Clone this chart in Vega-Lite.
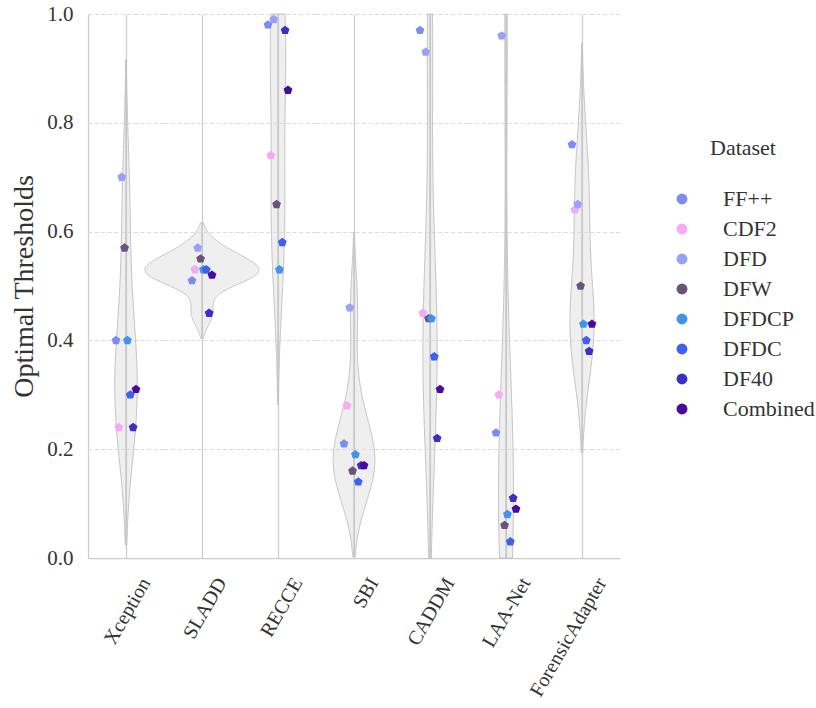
{
  "$schema": "https://vega.github.io/schema/vega-lite/v6.json",
  "padding": {"left": 10, "top": 3, "right": 4, "bottom": 4},
  "data": {"values": [
    {"method": "Xception", "dataset": "FF++", "threshold": 0.40},
    {"method": "SLADD", "dataset": "FF++", "threshold": 0.51},
    {"method": "RECCE", "dataset": "FF++", "threshold": 0.98},
    {"method": "SBI", "dataset": "FF++", "threshold": 0.21},
    {"method": "CADDM", "dataset": "FF++", "threshold": 0.97},
    {"method": "LAA-Net", "dataset": "FF++", "threshold": 0.23},
    {"method": "ForensicAdapter", "dataset": "FF++", "threshold": 0.76},
    {"method": "Xception", "dataset": "CDF2", "threshold": 0.24},
    {"method": "SLADD", "dataset": "CDF2", "threshold": 0.53},
    {"method": "RECCE", "dataset": "CDF2", "threshold": 0.74},
    {"method": "SBI", "dataset": "CDF2", "threshold": 0.28},
    {"method": "CADDM", "dataset": "CDF2", "threshold": 0.45},
    {"method": "LAA-Net", "dataset": "CDF2", "threshold": 0.30},
    {"method": "ForensicAdapter", "dataset": "CDF2", "threshold": 0.64},
    {"method": "Xception", "dataset": "DFD", "threshold": 0.70},
    {"method": "SLADD", "dataset": "DFD", "threshold": 0.57},
    {"method": "RECCE", "dataset": "DFD", "threshold": 0.99},
    {"method": "SBI", "dataset": "DFD", "threshold": 0.46},
    {"method": "CADDM", "dataset": "DFD", "threshold": 0.93},
    {"method": "LAA-Net", "dataset": "DFD", "threshold": 0.96},
    {"method": "ForensicAdapter", "dataset": "DFD", "threshold": 0.65},
    {"method": "Xception", "dataset": "DFW", "threshold": 0.57},
    {"method": "SLADD", "dataset": "DFW", "threshold": 0.55},
    {"method": "RECCE", "dataset": "DFW", "threshold": 0.65},
    {"method": "SBI", "dataset": "DFW", "threshold": 0.16},
    {"method": "CADDM", "dataset": "DFW", "threshold": 0.44},
    {"method": "LAA-Net", "dataset": "DFW", "threshold": 0.06},
    {"method": "ForensicAdapter", "dataset": "DFW", "threshold": 0.50},
    {"method": "Xception", "dataset": "DFDCP", "threshold": 0.40},
    {"method": "SLADD", "dataset": "DFDCP", "threshold": 0.53},
    {"method": "RECCE", "dataset": "DFDCP", "threshold": 0.53},
    {"method": "SBI", "dataset": "DFDCP", "threshold": 0.19},
    {"method": "CADDM", "dataset": "DFDCP", "threshold": 0.44},
    {"method": "LAA-Net", "dataset": "DFDCP", "threshold": 0.08},
    {"method": "ForensicAdapter", "dataset": "DFDCP", "threshold": 0.43},
    {"method": "Xception", "dataset": "DFDC", "threshold": 0.30},
    {"method": "SLADD", "dataset": "DFDC", "threshold": 0.53},
    {"method": "RECCE", "dataset": "DFDC", "threshold": 0.58},
    {"method": "SBI", "dataset": "DFDC", "threshold": 0.14},
    {"method": "CADDM", "dataset": "DFDC", "threshold": 0.37},
    {"method": "LAA-Net", "dataset": "DFDC", "threshold": 0.03},
    {"method": "ForensicAdapter", "dataset": "DFDC", "threshold": 0.40},
    {"method": "Xception", "dataset": "DF40", "threshold": 0.24},
    {"method": "SLADD", "dataset": "DF40", "threshold": 0.45},
    {"method": "RECCE", "dataset": "DF40", "threshold": 0.97},
    {"method": "SBI", "dataset": "DF40", "threshold": 0.17},
    {"method": "CADDM", "dataset": "DF40", "threshold": 0.22},
    {"method": "LAA-Net", "dataset": "DF40", "threshold": 0.11},
    {"method": "ForensicAdapter", "dataset": "DF40", "threshold": 0.38},
    {"method": "Xception", "dataset": "Combined", "threshold": 0.31},
    {"method": "SLADD", "dataset": "Combined", "threshold": 0.52},
    {"method": "RECCE", "dataset": "Combined", "threshold": 0.86},
    {"method": "SBI", "dataset": "Combined", "threshold": 0.17},
    {"method": "CADDM", "dataset": "Combined", "threshold": 0.31},
    {"method": "LAA-Net", "dataset": "Combined", "threshold": 0.09},
    {"method": "ForensicAdapter", "dataset": "Combined", "threshold": 0.43}
  ]},
  "spacing": 0,
  "bounds": "flush",
  "facet": {
    "column": {
      "field": "method", "type": "nominal",
      "sort": ["Xception", "SLADD", "RECCE", "SBI", "CADDM", "LAA-Net", "ForensicAdapter"],
      "title": null,
      "header": {"labelOrient": "bottom", "labelAngle": -60, "labelAlign": "right", "labelBaseline": "line-top", "labelLineHeight": 46, "labelPadding": 10, "labelFontSize": 20, "labelColor": "#333333", "labelFont": "Liberation Serif"}
    }
  },
  "resolve": {"scale": {"x": "independent"}},
  "spec": {
    "width": 76,
    "height": 544,
    "encoding": {
      "y": {"field": "threshold", "type": "quantitative", "title": "Optimal Thresholds", "scale": {"domain": [0, 1], "nice": false, "zero": false},
            "axis": {"values": [0, 0.2, 0.4, 0.6, 0.8, 1], "format": ".1f"}}
    },
    "layer": [
      {"transform": [{"filter": {"field": "method", "equal": "Xception"}}, {"density": "threshold", "bandwidth": 0.1081, "extent": [0.024, 0.916], "as": ["threshold", "density"]}],
       "mark": {"type": "area", "orient": "horizontal"},
       "encoding": {"x": {"field": "density", "type": "quantitative", "stack": null, "scale": {"domain": [-7.93, 7.93], "nice": false, "zero": false},
         "axis": {"values": [0], "grid": true, "gridColor": "#cccccc", "gridWidth": 1.25, "ticks": false, "labels": false, "domain": true, "domainColor": "#cccccc", "domainWidth": 1.25, "title": null}}}},
      {"transform": [{"filter": {"field": "method", "equal": "Xception"}}, {"density": "threshold", "bandwidth": 0.1081, "extent": [0.024, 0.916], "as": ["threshold", "density"]}],
       "mark": {"type": "area", "orient": "horizontal"},
       "encoding": {"x": {"field": "density", "type": "quantitative", "stack": null, "scale": {"domain": [-7.93, 7.93], "nice": false, "zero": false, "reverse": true}, "axis": null}}},
      {"transform": [{"filter": {"field": "method", "equal": "SLADD"}}, {"density": "threshold", "bandwidth": 0.0231, "extent": [0.404, 0.616], "as": ["threshold", "density"]}],
       "mark": {"type": "area", "orient": "horizontal"},
       "encoding": {"x": {"field": "density", "type": "quantitative", "stack": null, "scale": {"domain": [-7.93, 7.93], "nice": false, "zero": false}, "axis": null}}},
      {"transform": [{"filter": {"field": "method", "equal": "SLADD"}}, {"density": "threshold", "bandwidth": 0.0231, "extent": [0.404, 0.616], "as": ["threshold", "density"]}],
       "mark": {"type": "area", "orient": "horizontal"},
       "encoding": {"x": {"field": "density", "type": "quantitative", "stack": null, "scale": {"domain": [-7.93, 7.93], "nice": false, "zero": false, "reverse": true}, "axis": null}}},
      {"transform": [{"filter": {"field": "method", "equal": "RECCE"}}, {"density": "threshold", "bandwidth": 0.124, "extent": [0.282, 1], "as": ["threshold", "density"]}],
       "mark": {"type": "area", "orient": "horizontal"},
       "encoding": {"x": {"field": "density", "type": "quantitative", "stack": null, "scale": {"domain": [-7.93, 7.93], "nice": false, "zero": false}, "axis": null}}},
      {"transform": [{"filter": {"field": "method", "equal": "RECCE"}}, {"density": "threshold", "bandwidth": 0.124, "extent": [0.282, 1], "as": ["threshold", "density"]}],
       "mark": {"type": "area", "orient": "horizontal"},
       "encoding": {"x": {"field": "density", "type": "quantitative", "stack": null, "scale": {"domain": [-7.93, 7.93], "nice": false, "zero": false, "reverse": true}, "axis": null}}},
      {"transform": [{"filter": {"field": "method", "equal": "SBI"}}, {"density": "threshold", "bandwidth": 0.0693, "extent": [0.002, 0.598], "as": ["threshold", "density"]}],
       "mark": {"type": "area", "orient": "horizontal"},
       "encoding": {"x": {"field": "density", "type": "quantitative", "stack": null, "scale": {"domain": [-7.93, 7.93], "nice": false, "zero": false}, "axis": null}}},
      {"transform": [{"filter": {"field": "method", "equal": "SBI"}}, {"density": "threshold", "bandwidth": 0.0693, "extent": [0.002, 0.598], "as": ["threshold", "density"]}],
       "mark": {"type": "area", "orient": "horizontal"},
       "encoding": {"x": {"field": "density", "type": "quantitative", "stack": null, "scale": {"domain": [-7.93, 7.93], "nice": false, "zero": false, "reverse": true}, "axis": null}}},
      {"transform": [{"filter": {"field": "method", "equal": "CADDM"}}, {"density": "threshold", "bandwidth": 0.184, "extent": [0, 1], "as": ["threshold", "density"]}],
       "mark": {"type": "area", "orient": "horizontal"},
       "encoding": {"x": {"field": "density", "type": "quantitative", "stack": null, "scale": {"domain": [-7.93, 7.93], "nice": false, "zero": false}, "axis": null}}},
      {"transform": [{"filter": {"field": "method", "equal": "CADDM"}}, {"density": "threshold", "bandwidth": 0.184, "extent": [0, 1], "as": ["threshold", "density"]}],
       "mark": {"type": "area", "orient": "horizontal"},
       "encoding": {"x": {"field": "density", "type": "quantitative", "stack": null, "scale": {"domain": [-7.93, 7.93], "nice": false, "zero": false, "reverse": true}, "axis": null}}},
      {"transform": [{"filter": {"field": "method", "equal": "LAA-Net"}}, {"density": "threshold", "bandwidth": 0.203, "extent": [0, 1], "as": ["threshold", "density"]}],
       "mark": {"type": "area", "orient": "horizontal"},
       "encoding": {"x": {"field": "density", "type": "quantitative", "stack": null, "scale": {"domain": [-7.93, 7.93], "nice": false, "zero": false}, "axis": null}}},
      {"transform": [{"filter": {"field": "method", "equal": "LAA-Net"}}, {"density": "threshold", "bandwidth": 0.203, "extent": [0, 1], "as": ["threshold", "density"]}],
       "mark": {"type": "area", "orient": "horizontal"},
       "encoding": {"x": {"field": "density", "type": "quantitative", "stack": null, "scale": {"domain": [-7.93, 7.93], "nice": false, "zero": false, "reverse": true}, "axis": null}}},
      {"transform": [{"filter": {"field": "method", "equal": "ForensicAdapter"}}, {"density": "threshold", "bandwidth": 0.0931, "extent": [0.194, 0.946], "as": ["threshold", "density"]}],
       "mark": {"type": "area", "orient": "horizontal"},
       "encoding": {"x": {"field": "density", "type": "quantitative", "stack": null, "scale": {"domain": [-7.93, 7.93], "nice": false, "zero": false}, "axis": null}}},
      {"transform": [{"filter": {"field": "method", "equal": "ForensicAdapter"}}, {"density": "threshold", "bandwidth": 0.0931, "extent": [0.194, 0.946], "as": ["threshold", "density"]}],
       "mark": {"type": "area", "orient": "horizontal"},
       "encoding": {"x": {"field": "density", "type": "quantitative", "stack": null, "scale": {"domain": [-7.93, 7.93], "nice": false, "zero": false, "reverse": true}, "axis": null}}},
      {"mark": {"type": "point", "filled": true, "opacity": 1, "size": 85, "shape": "M0,-1L0.951,-0.309L0.588,0.809L-0.588,0.809L-0.951,-0.309Z"},
       "encoding": {
         "x": {"field": "dataset", "type": "nominal", "scale": {"type": "point", "padding": 0, "range": [28, 48], "domain": ["FF++", "CDF2", "DFD", "DFW", "DFDCP", "DFDC", "DF40", "Combined"]}, "axis": null},
         "color": {"field": "dataset", "type": "nominal",
           "scale": {"domain": ["FF++", "CDF2", "DFD", "DFW", "DFDCP", "DFDC", "DF40", "Combined"],
                     "range": ["#7b8ef0", "#f5aaf5", "#98a0fb", "#6a5278", "#4094ef", "#3f5ff0", "#3c2fc8", "#4a0a9e"]},
           "legend": {"title": "Dataset", "orient": "none", "legendX": 583, "legendY": 124, "symbolType": "circle", "symbolSize": 120, "symbolStrokeWidth": 0, "symbolOpacity": 1,
                      "labelFont": "Liberation Serif", "titleFont": "Liberation Serif",
                      "labelFontSize": 22, "labelOffset": 30, "rowPadding": 8, "titleFontSize": 22, "titleFontWeight": "normal", "titleAnchor": "middle", "titlePadding": 28, "labelColor": "#333333", "titleColor": "#333333"}}
       }}
    ],
    "resolve": {"scale": {"x": "independent"}}
  },
  "config": {
    "font": "Liberation Serif",
    "view": {"stroke": null},
    "area": {"fill": "#dcdcdc", "fillOpacity": 0.45, "stroke": "#c4c4c4", "strokeWidth": 1},
    "axisY": {"grid": true, "gridDash": [4, 2.5], "gridColor": "#dcdcdc", "gridWidth": 1, "domainColor": "#cccccc", "domainWidth": 1.25, "ticks": false,
              "labelFont": "Liberation Serif", "titleFont": "Liberation Serif",
              "labelFontSize": 21, "labelPadding": 15, "labelColor": "#333333", "titleFontSize": 28, "titleFontWeight": "normal", "titleColor": "#333333", "titlePadding": 8}
  }
}
